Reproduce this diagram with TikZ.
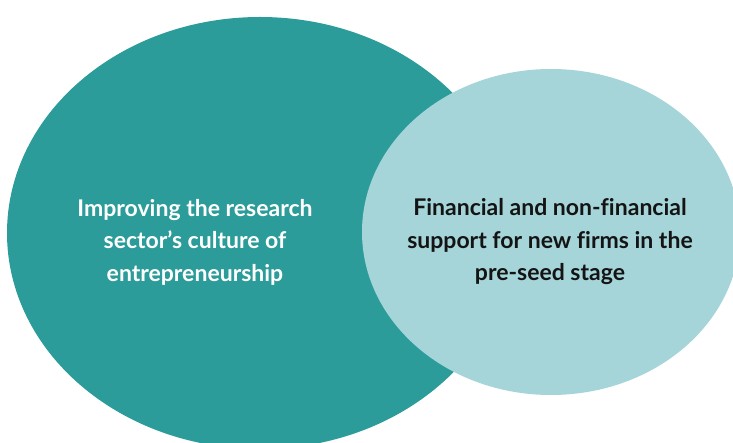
\documentclass[tikz,border=0pt]{standalone}
\usepackage{fontspec}
\setmainfont{Lato}[UprightFont=* Bold, Ligatures=NoCommon]
\usetikzlibrary{shapes.geometric}
\definecolor{teal1}{HTML}{2B9C99}
\definecolor{teal2}{HTML}{A5D5D8}
\definecolor{txtdark}{HTML}{141414}
\tikzset{
  circ/.style={ellipse, inner sep=0pt, draw=none},
  lbl/.style={align=center, font=\fontsize{23}{32.5}\selectfont}
}
\begin{document}
\begin{tikzpicture}[x=1pt,y=-1pt]
\useasboundingbox (0,0) rectangle (733,443);
\clip (0,0) rectangle (733,443);
\node[circ, fill=teal1, minimum width=506pt, minimum height=432pt] (big) at (260,233) {};
\node[circ, fill=teal2, minimum width=378pt, minimum height=326pt] (small) at (551,232) {};
\node[lbl, text=white] (ltext) at (195,242) {Improving the research\\sector’s culture of\\entrepreneurship};
\node[lbl, text=txtdark] (rtext) at (550,242) {Financial and non-financial\\support for new firms in the\\pre-seed stage};
\end{tikzpicture}
\end{document}
